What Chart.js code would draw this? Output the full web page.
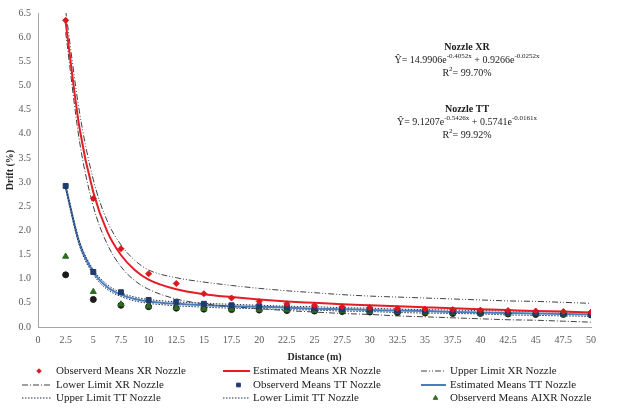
<!DOCTYPE html>
<html>
<head>
<meta charset="utf-8">
<script src="https://cdn.jsdelivr.net/npm/chart.js@4.4.1/dist/chart.umd.min.js"></script>
<style>
  html, body { margin: 0; padding: 0; background: #fff; }
</style>
</head>
<body>
<canvas id="chart" width="619" height="409"></canvas>
<script>
// distances where means were observed (m)
const distances = [2.5, 5, 7.5, 10, 12.5, 15, 17.5, 20, 22.5, 25, 27.5, 30, 32.5, 35, 37.5, 40, 42.5, 45, 47.5, 50];
// distances used for the fitted curves and limits
const curveDistances = [2.5, 3.75, 5, 6.25, 7.5, 8.75, 10, 12.5, 15, 17.5, 20, 22.5, 25, 27.5, 30, 32.5, 35, 37.5, 40, 42.5, 45, 47.5, 50];
const xTicks = [0, 2.5, 5, 7.5, 10, 12.5, 15, 17.5, 20, 22.5, 25, 27.5, 30, 32.5, 35, 37.5, 40, 42.5, 45, 47.5, 50];

const observedXR   = [6.35, 2.66, 1.62, 1.10, 0.90, 0.69, 0.60, 0.53, 0.48, 0.45, 0.42, 0.40, 0.38, 0.37, 0.36, 0.35, 0.34, 0.33, 0.32, 0.31];
const observedTT   = [2.92, 1.14, 0.72, 0.56, 0.52, 0.48, 0.45, 0.43, 0.41, 0.39, 0.37, 0.36, 0.34, 0.33, 0.32, 0.31, 0.30, 0.29, 0.28, 0.27];
const observedAIXR = [1.46, 0.73, 0.47, 0.43, 0.40, 0.38, 0.37, 0.36, 0.35, 0.34, 0.33, 0.32, 0.31, 0.30, 0.29, 0.28, 0.27, 0.27, 0.26, 0.25];
const observedDots = [1.08, 0.57, 0.45, 0.42, 0.39, 0.37, 0.36, 0.35, 0.34, 0.33, 0.32, 0.31, 0.30, 0.29, 0.28, 0.28, 0.27, 0.26, 0.26, 0.25];

const estimatedXR = [6.31, 4.12, 2.79, 1.98, 1.49, 1.18, 0.98, 0.78, 0.68, 0.62, 0.57, 0.53, 0.50, 0.47, 0.45, 0.43, 0.41, 0.39, 0.37, 0.35, 0.33, 0.32, 0.30];
const upperXR     = [6.55, 4.45, 3.05, 2.20, 1.70, 1.38, 1.18, 1.02, 0.93, 0.86, 0.80, 0.75, 0.71, 0.67, 0.64, 0.62, 0.60, 0.58, 0.56, 0.54, 0.53, 0.51, 0.49];
const lowerXR     = [6.10, 3.85, 2.50, 1.72, 1.25, 0.96, 0.78, 0.58, 0.48, 0.42, 0.38, 0.34, 0.31, 0.28, 0.26, 0.23, 0.21, 0.19, 0.17, 0.15, 0.14, 0.12, 0.10];
const estimatedTT = [2.90, 1.73, 1.14, 0.83, 0.67, 0.58, 0.53, 0.48, 0.45, 0.43, 0.42, 0.40, 0.38, 0.37, 0.35, 0.34, 0.33, 0.31, 0.30, 0.29, 0.28, 0.27, 0.26];
const upperTT     = [2.94, 1.78, 1.19, 0.88, 0.71, 0.62, 0.57, 0.52, 0.49, 0.47, 0.45, 0.43, 0.42, 0.40, 0.39, 0.37, 0.36, 0.35, 0.34, 0.33, 0.32, 0.31, 0.30];
const lowerTT     = [2.86, 1.68, 1.09, 0.78, 0.63, 0.54, 0.49, 0.44, 0.41, 0.39, 0.38, 0.36, 0.35, 0.33, 0.32, 0.30, 0.29, 0.28, 0.27, 0.25, 0.24, 0.23, 0.22];

const legendOrder = [
  'Observerd Means XR Nozzle', 'Estimated Means XR Nozzle', 'Upper Limit XR Nozzle',
  'Lower Limit XR Nozzle', 'Observerd Means TT Nozzle', 'Estimated Means TT Nozzle',
  'Upper Limit TT Nozzle', 'Lower Limit TT Nozzle', 'Observerd Means AIXR Nozzle'
];

const SERIF = '"Liberation Serif", "Times New Roman", serif';

const pts = (xs, ys) => xs.map((x, i) => ({ x: x, y: ys[i] }));

// lower order = drawn on top
function markerSet(label, ys, style, color, radius, order) {
  return {
    label: label, data: pts(distances, ys), showLine: false,
    pointStyle: style, pointRadius: radius, pointHoverRadius: radius,
    backgroundColor: color, borderColor: color, borderWidth: 1, order: order
  };
}
function curveSet(label, ys, color, width, dash, order) {
  return {
    label: label, data: pts(curveDistances, ys), pointRadius: 0,
    borderColor: color, backgroundColor: color, borderWidth: width,
    borderDash: dash, cubicInterpolationMode: 'monotone', fill: false, order: order
  };
}

const datasets = [
  curveSet('Upper Limit TT Nozzle', upperTT, '#1f2f55', 1, [1.5, 1.5], 12),
  curveSet('Lower Limit TT Nozzle', lowerTT, '#1f2f55', 1, [1.5, 1.5], 12),
  curveSet('Estimated Means TT Nozzle', estimatedTT, '#4a7ebb', 2, [], 13),
  curveSet('Upper Limit XR Nozzle', upperXR, '#404040', 1, [6, 2, 1, 2, 1, 2], 11),
  curveSet('Lower Limit XR Nozzle', lowerXR, '#404040', 1, [6, 2, 1, 2], 11),
  curveSet('Estimated Means XR Nozzle', estimatedXR, '#e41e26', 2, [], 10),
  markerSet('Observed Means (circles)', observedDots, 'circle', '#1a1a1a', 3, 4),
  markerSet('Observerd Means AIXR Nozzle', observedAIXR, 'triangle', '#2e6b1f', 3.5, 3),
  markerSet('Observerd Means TT Nozzle', observedTT, 'rect', '#1f3a6e', 3.5, 2),
  markerSet('Observerd Means XR Nozzle', observedXR, 'rectRot', '#d7191c', 3, 1)
];

// three-column legend under the x axis
const gridLegend = {
  id: 'gridLegend',
  afterDraw(chart) {
    const ctx = chart.ctx;
    const cols = [[22, 52, 56], [223, 250, 253], [421, 446, 450]];
    const rows = [371, 385, 398];
    legendOrder.forEach((label, i) => {
      const ds = chart.data.datasets.find(d => d.label === label);
      const c = cols[i % 3];
      const y = rows[Math.floor(i / 3)];
      ctx.save();
      if (ds.showLine === false) {
        ctx.fillStyle = ds.backgroundColor;
        ctx.strokeStyle = ds.borderColor;
        ctx.lineWidth = 1;
        Chart.helpers.drawPoint(ctx, { pointStyle: ds.pointStyle, radius: ds.pointRadius * 0.75, borderWidth: 1, rotation: 0 }, (c[0] + c[1]) / 2 + 2, y);
      } else {
        ctx.strokeStyle = ds.borderColor;
        ctx.lineWidth = ds.borderWidth;
        ctx.setLineDash(ds.borderDash || []);
        ctx.beginPath();
        ctx.moveTo(c[0], y);
        ctx.lineTo(c[1], y);
        ctx.stroke();
      }
      ctx.setLineDash([]);
      ctx.fillStyle = '#222';
      ctx.font = '11px ' + SERIF;
      ctx.textAlign = 'left';
      ctx.textBaseline = 'middle';
      ctx.fillText(label, c[2], y);
      ctx.restore();
    });
  }
};

// fitted equations text block
const equations = [
  { title: 'Nozzle XR', y: 47, eq: [['Ŷ= 14.9906e', 0], ['-0.4052x', 1], [' + 0.9266e', 0], ['-0.0252x', 1]], r2: '= 99.70%' },
  { title: 'Nozzle TT', y: 109, eq: [['Ŷ= 9.1207e', 0], ['-0.5426x', 1], [' + 0.5741e', 0], ['-0.0161x', 1]], r2: '= 99.92%' }
];
function richText(ctx, parts, cx, y) {
  const base = '10px ' + SERIF, sup = '7px ' + SERIF;
  let total = 0;
  parts.forEach(p => { ctx.font = p[1] ? sup : base; total += ctx.measureText(p[0]).width; });
  let x = cx - total / 2;
  parts.forEach(p => {
    ctx.font = p[1] ? sup : base;
    ctx.fillText(p[0], x, p[1] ? y - 4 : y);
    x += ctx.measureText(p[0]).width;
  });
}
const equationText = {
  id: 'equationText',
  afterDraw(chart) {
    const ctx = chart.ctx;
    ctx.save();
    ctx.fillStyle = '#1a1a1a';
    ctx.textAlign = 'left';
    ctx.textBaseline = 'middle';
    equations.forEach(e => {
      ctx.font = 'bold 10px ' + SERIF;
      const w = ctx.measureText(e.title).width;
      ctx.fillText(e.title, 467 - w / 2, e.y);
      richText(ctx, e.eq, 467, e.y + 13);
      richText(ctx, [['R', 0], ['2', 1], [e.r2, 0]], 467, e.y + 26);
    });
    ctx.restore();
  }
};

new Chart(document.getElementById('chart'), {
  type: 'line',
  data: { datasets: datasets },
  plugins: [gridLegend, equationText],
  options: {
    responsive: false,
    animation: false,
    layout: { padding: { top: 12, right: 28, bottom: 42, left: 0 } },
    plugins: { legend: { display: false }, tooltip: { enabled: false } },
    scales: {
      x: {
        type: 'linear', min: 0, max: 50,
        afterFit(scale) { scale.height = 40; },
        afterBuildTicks(scale) { scale.ticks = xTicks.map(v => ({ value: v })); },
        grid: { display: false, drawTicks: false },
        border: { display: true, color: '#a6a6a6', width: 1 },
        ticks: {
          autoSkip: false, maxRotation: 0, padding: 7, color: '#595959',
          font: { family: SERIF, size: 10 },
          callback: v => String(v)
        },
        title: {
          display: true, text: 'Distance (m)', color: '#262626',
          font: { family: SERIF, size: 10, weight: 'bold' },
          padding: { top: 0, bottom: 4 }
        }
      },
      y: {
        min: 0, max: 6.5,
        afterFit(scale) { scale.width = 38; },
        grid: { display: false, drawTicks: false },
        border: { display: true, color: '#a6a6a6', width: 1 },
        ticks: {
          stepSize: 0.5, padding: 7, color: '#595959',
          font: { family: SERIF, size: 10 },
          callback: v => v.toFixed(1)
        },
        title: {
          display: true, text: 'Drift (%)', color: '#262626',
          font: { family: SERIF, size: 10, weight: 'bold' },
          padding: { top: 4, bottom: 0 }
        }
      }
    }
  }
});
</script>
</body>
</html>
